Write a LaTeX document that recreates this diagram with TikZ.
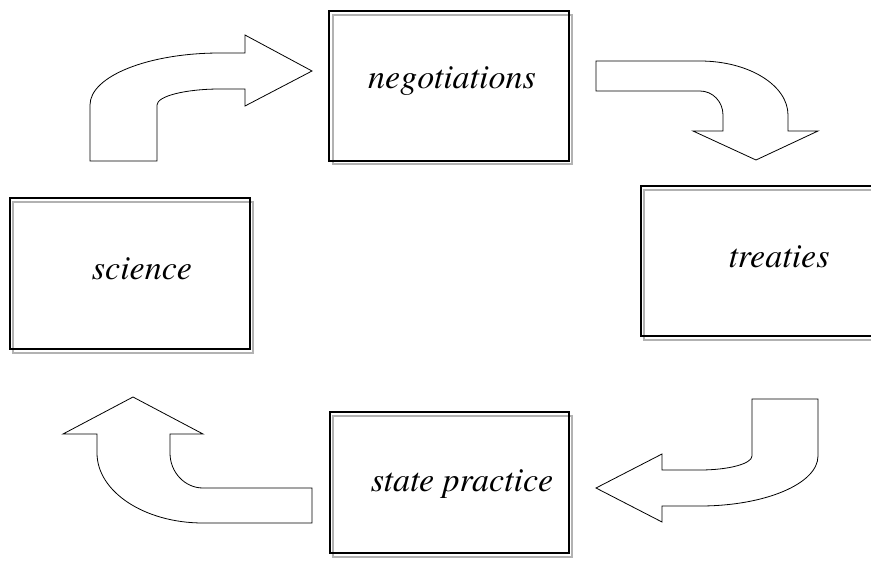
\documentclass[tikz,border=0pt]{standalone}
\usepackage{fontspec}
\setmainfont{texgyretermes}[Extension=.otf,UprightFont=*-regular,ItalicFont=*-italic,BoldFont=*-bold,BoldItalicFont=*-bolditalic]
\begin{document}
\begin{tikzpicture}[x=1pt,y=-1pt,
  frame/.style={draw=black,line width=1.2pt,minimum width=#1,inner sep=0pt,outer sep=0pt},
  shade/.style={draw=black!30,line width=1.4pt},
  label/.style={anchor=base,inner sep=0pt,font=\fontsize{34}{40}\selectfont\itshape},
  blockarrow/.style={draw=black,line width=0.8pt,line join=miter,fill=white}]
\useasboundingbox (0,0) rectangle (871,565);

% offset grey outlines behind the boxes
\draw[shade] (333,15) rectangle (572,164);
\draw[shade] (13,202) rectangle (253,353);
\draw[shade] (644,190) rectangle (884,340);
\draw[shade] (333,416) rectangle (572,557);

% boxes
\node[frame=240pt,minimum height=150pt] (neg) at (449,86) {};
\node[frame=240pt,minimum height=151pt] (sci) at (130,273.5) {};
\node[frame=240pt,minimum height=150pt] (tre) at (761,261) {};
\node[frame=239pt,minimum height=141pt] (sta) at (449.5,482.5) {};

% labels
\node[label] (negtxt) at (452,88) {negotiations};
\node[label] (scitxt) at (142,279) {science};
\node[label] (tretxt) at (779,267) {treaties};
\node[label] (statxt) at (462,491) {state practice};

% science -> negotiations
\draw[blockarrow] (90,161) -- (90,105) .. controls (90,76.3) and (148.2,53) .. (220,53)
  -- (245,53) -- (245,35) -- (312,71) -- (245,106) -- (245,89) -- (220,89)
  .. controls (185.2,89) and (157,96.2) .. (157,105) -- (157,161) -- cycle;

% negotiations -> treaties
\draw[blockarrow] (596,61) -- (700,61) .. controls (748.6,61) and (788,85.2) .. (788,115)
  -- (788,131) -- (818,131) -- (756,160) -- (693,131) -- (723,131) -- (723,115)
  .. controls (723,101.7) and (712.7,91) .. (700,91) -- (596,91) -- cycle;

% treaties -> state practice
\draw[blockarrow] (752,399) -- (818,399) -- (818,456) .. controls (818,483.6) and (765.2,506) .. (700,506)
  -- (662,506) -- (662,522) -- (596,488) -- (662,454) -- (662,470) -- (700,470)
  .. controls (728.7,470) and (752,463.7) .. (752,456) -- cycle;

% state practice -> science
\draw[blockarrow] (312,488) -- (312,523) -- (203,523) .. controls (144.5,523) and (97,491.7) .. (97,453)
  -- (97,434) -- (63,434) -- (133,397) -- (203,434) -- (170,434) -- (170,453)
  .. controls (170,472.3) and (184.8,488) .. (203,488) -- cycle;
\end{tikzpicture}
\end{document}
